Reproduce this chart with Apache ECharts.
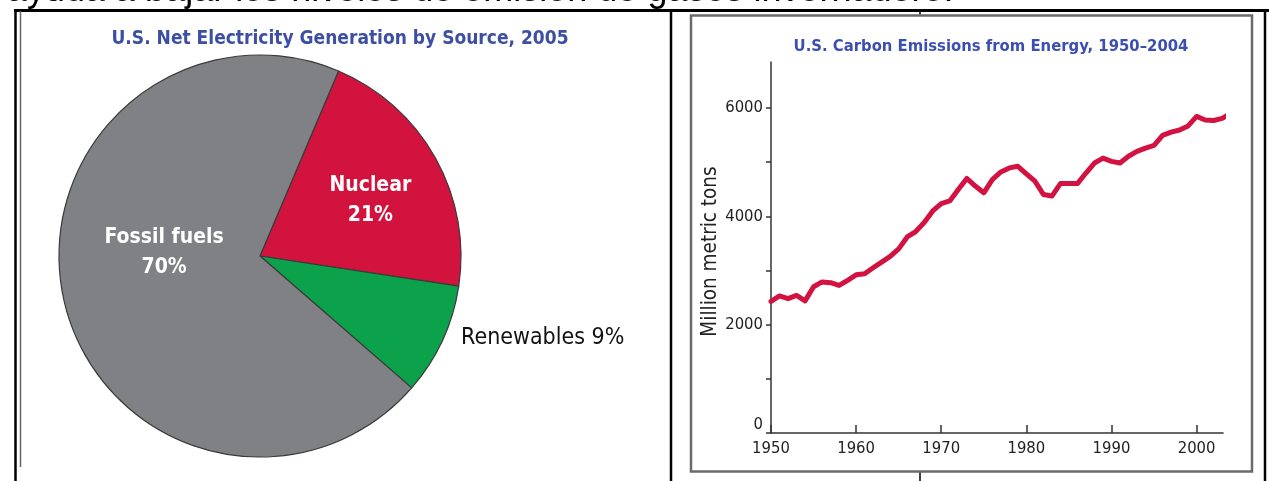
<!DOCTYPE html>
<html>
<head>
<meta charset="utf-8">
<script src="https://cdn.jsdelivr.net/npm/echarts@6/dist/echarts.min.js"></script>
<style>
  html, body { margin: 0; padding: 0; background: #fff; }
  #chart { width: 1269px; height: 481px; }
</style>
</head>
<body>
<div id="chart"></div>
<script>
// fuentes de electricidad 2005 (izquierda)
const sources = ["Nuclear", "Renewables", "Fossil fuels"];
const shares = [21, 9, 70];
const sourceColors = ["#d2133d", "#0ba24b", "#808184"];

// emisiones de carbono 1950-2004 (derecha)
const years = [
  1950, 1951, 1952, 1953, 1954, 1955, 1956, 1957, 1958, 1959,
  1960, 1961, 1962, 1963, 1964, 1965, 1966, 1967, 1968, 1969,
  1970, 1971, 1972, 1973, 1974, 1975, 1976, 1977, 1978, 1979,
  1980, 1981, 1982, 1983, 1984, 1985, 1986, 1987, 1988, 1989,
  1990, 1991, 1992, 1993, 1994, 1995, 1996, 1997, 1998, 1999,
  2000, 2001, 2002, 2003, 2004
];
const emissions = [
  2430, 2530, 2480, 2540, 2440, 2700, 2790, 2775, 2725, 2820,
  2920, 2940, 3050, 3155, 3260, 3400, 3620, 3720, 3885, 4100,
  4235, 4285, 4495, 4700, 4560, 4435, 4680, 4820, 4895, 4925,
  4785, 4650, 4405, 4375, 4605, 4605, 4605, 4800, 4985, 5075,
  5015, 4985, 5110, 5200, 5260, 5310, 5495, 5555, 5595, 5670,
  5845, 5780, 5770, 5810, 5900
];
const yearTicks = [1950, 1960, 1970, 1980, 1990, 2000];
const valueTicks = [0, 1000, 2000, 3000, 4000, 5000, 6000];
const valueLabels = [0, 2000, 4000, 6000];

// no hay fuente "narrow" instalada: se usa la condensada de DejaVu
const narrow = "'DejaVu Sans Condensed', 'Liberation Sans', sans-serif";

var myChart = echarts.init(document.getElementById("chart"));

var option = {
  backgroundColor: "#fff",
  animation: false,
  title: [
    {
      text: "U.S. Net Electricity Generation by Source, 2005",
      left: 340,
      top: 29.5,
      padding: 0,
      textAlign: "center",
      textStyle: { fontFamily: narrow, fontWeight: "bold", fontSize: 19, color: "#3c4fa2" }
    },
    {
      text: "U.S. Carbon Emissions from Energy, 1950–2004",
      left: 991,
      top: 38.5,
      padding: 0,
      textAlign: "center",
      textStyle: { fontFamily: narrow, fontWeight: "bold", fontSize: 16.5, color: "#3c4fb0" }
    }
  ],
  grid: {
    left: 771,
    right: 46,
    top: 62,
    bottom: 48,
    containLabel: false
  },
  xAxis: {
    type: "value",
    min: 1950,
    max: 2003.1,
    axisLine: { lineStyle: { color: "#333", width: 1.5 } },
    axisTick: {
      inside: true,
      length: 8,
      customValues: yearTicks,
      lineStyle: { color: "#333", width: 1.5 }
    },
    axisLabel: {
      customValues: yearTicks,
      margin: 7,
      fontFamily: narrow,
      fontSize: 16.5,
      color: "#222",
      formatter: v => String(v)
    },
    splitLine: { show: false }
  },
  yAxis: {
    type: "value",
    min: 0,
    max: 6850,
    name: "Million metric tons",
    nameLocation: "middle",
    nameGap: 30,
    nameTextStyle: { fontFamily: narrow, fontSize: 20.5, color: "#222", padding: [0, 8, 0, 0] },
    axisLine: { show: true, lineStyle: { color: "#333", width: 1.5 } },
    axisTick: {
      show: true,
      length: 5,
      customValues: valueTicks,
      lineStyle: { color: "#333", width: 1.5 }
    },
    axisLabel: {
      customValues: valueLabels,
      margin: 8,
      fontFamily: narrow,
      fontSize: 16.5,
      color: "#222",
      formatter: v => (v === 0 ? "{z|0}" : String(v)),
      rich: {
        z: { fontFamily: narrow, fontSize: 16.5, color: "#222", padding: [0, 0, 16, 0] }
      }
    },
    splitLine: { show: false }
  },
  series: [
    {
      type: "pie",
      center: [260, 256],
      radius: 201,
      startAngle: 67,
      clockwise: true,
      avoidLabelOverlap: false,
      itemStyle: { borderColor: "#3a3a3a", borderWidth: 1.2 },
      emphasis: { disabled: true },
      labelLine: { show: false, length: 15, length2: 0 },
      labelLayout: function (params) {
        // pequeños ajustes para colocar las etiquetas como en el original
        if (params.dataIndex === 0) return { dx: 20, dy: -5 };
        if (params.dataIndex === 1) return { dx: 0, dy: -9 };
        return { dx: 5, dy: -27 };
      },
      data: sources.map((name, i) => ({
        name: name,
        value: shares[i],
        itemStyle: { color: sourceColors[i] },
        label: i === 1
          ? {
              position: "outside",
              formatter: "{b} {c}%",
              fontFamily: narrow,
              fontSize: 23,
              color: "#111"
            }
          : {
              position: "inner",
              formatter: "{b}\n{c}%",
              fontFamily: narrow,
              fontWeight: "bold",
              fontSize: 21,
              lineHeight: 30,
              color: "#fff"
            }
      }))
    },
    {
      type: "line",
      data: years.map((y, i) => [y, emissions[i]]),
      clip: false,
      symbol: "none",
      lineStyle: { color: "#d21240", width: 5, cap: "round", join: "round" },
      emphasis: { disabled: true }
    }
  ],
  graphic: [
    {
      type: "text",
      left: 7,
      top: -26.5,
      z: 1,
      style: {
        text: "ayuda a bajar los niveles de emisión de gases invernadero.",
        font: "36px 'Liberation Sans', Arial, sans-serif",
        fill: "#000"
      }
    },
    // marco negro
    { type: "line", z: 10, shape: { x1: 14, y1: 10.5, x2: 1269, y2: 10.5 }, style: { stroke: "#000", lineWidth: 3 } },
    { type: "line", z: 10, shape: { x1: 15.5, y1: 10, x2: 15.5, y2: 481 }, style: { stroke: "#000", lineWidth: 2.5 } },
    { type: "line", z: 10, shape: { x1: 671, y1: 10, x2: 671, y2: 481 }, style: { stroke: "#000", lineWidth: 2.5 } },
    { type: "line", z: 10, shape: { x1: 1265, y1: 10, x2: 1265, y2: 481 }, style: { stroke: "#000", lineWidth: 2.5 } },
    { type: "line", z: 10, shape: { x1: 920, y1: 10, x2: 920, y2: 15 }, style: { stroke: "#000", lineWidth: 1.5 } },
    { type: "line", z: 10, shape: { x1: 920, y1: 472, x2: 920, y2: 481 }, style: { stroke: "#000", lineWidth: 1.5 } },
    // bordes grises de los paneles
    { type: "line", z: 10, shape: { x1: 20.5, y1: 11, x2: 20.5, y2: 467 }, style: { stroke: "#666", lineWidth: 1.5 } },
    {
      type: "rect", z: 10,
      shape: { x: 691, y: 15.5, width: 561, height: 456 },
      style: { fill: "none", stroke: "#6b6b6b", lineWidth: 2.5 }
    }
  ]
};

myChart.setOption(option);
</script>
</body>
</html>
